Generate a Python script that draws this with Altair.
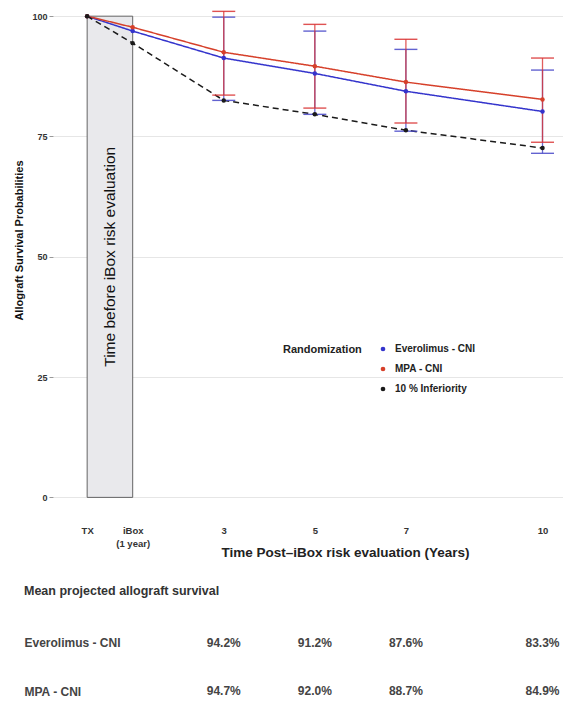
import altair as alt
import pandas as pd

# ---------------- data ----------------
years = [0, 1, 3, 5, 7, 10]
tick_labels = ["TX", "iBox|(1 year)", "3", "5", "7", "10"]
series_names = ["Everolimus - CNI", "MPA - CNI", "10 % Inferiority"]
everolimus = [100, 96.9, 91.3, 88.1, 84.4, 80.2]
mpa = [100, 97.7, 92.5, 89.6, 86.3, 82.7]
inferiority = [100, 94.4, 82.5, 79.6, 76.3, 72.6]

ci_years = [3, 5, 7, 10]
everolimus_low = [82.5, 79.6, 76.1, 71.5]
everolimus_high = [99.8, 96.9, 93.1, 88.8]
mpa_low = [83.6, 80.9, 77.8, 73.8]
mpa_high = [101.0, 98.3, 95.2, 91.3]

box_start, box_end = 0, 1
box_top = 100
box_label = "Time before iBox risk evaluation"
box_label_level = 50

table_title = "Mean projected allograft survival"
table_rows = ["Everolimus - CNI", "MPA - CNI"]
table_years = [3, 5, 7, 10]
table_everolimus = ["94.2%", "91.2%", "87.6%", "83.3%"]
table_mpa = ["94.7%", "92.0%", "88.7%", "84.9%"]

# ---------------- style ----------------
FONT = "Liberation Sans"
line_colors = ["#3434cc", "#d6402a", "#1a1a1a"]
line_dashes = [[1, 0], [1, 0], [6, 4]]
ci_colors = {"Everolimus - CNI": "#4646c8", "MPA - CNI": "#d93434"}
X_DOMAIN = [-0.75, 10.45]
Y_DOMAIN = [-2, 101.7]
W, H = 510, 499

# ---------------- tables ----------------
rows = []
for name, vals in zip(series_names, [everolimus, mpa, inferiority]):
    for yr, v in zip(years, vals):
        rows.append({"series": name, "year": yr, "value": v})
lines_df = pd.DataFrame(rows)

ci_rows = []
for name, lo, hi in [(series_names[0], everolimus_low, everolimus_high),
                     (series_names[1], mpa_low, mpa_high)]:
    for yr, l, h in zip(ci_years, lo, hi):
        ci_rows.append({"series": name, "year": yr, "low": l, "high": h})
ci_df = pd.DataFrame(ci_rows)

box_df = pd.DataFrame({"year": [box_start], "year2": [box_end], "value": [0], "value2": [box_top]})
box_text_df = pd.DataFrame({"year": [(box_start + box_end) / 2], "value": [box_label_level], "label": [box_label]})

# label expression from tick labels
expr_parts = []
for v, lab in zip(years, tick_labels):
    if "|" in lab:
        parts = lab.split("|")
        expr_parts.append(f"datum.value == {v} ? [{', '.join(repr(p) for p in parts)}]")
    else:
        expr_parts.append(f"datum.value == {v} ? '{lab}'")
label_expr = " : ".join(expr_parts) + " : datum.label"

x_enc = alt.X(
    "year:Q",
    scale=alt.Scale(domain=X_DOMAIN, nice=False, zero=False),
    axis=alt.Axis(
        values=years, labelExpr=label_expr, title="Time Post\u2013iBox risk evaluation (Years)",
        ticks=False, domain=False, grid=False, labelPadding=18, labelFontSize=9.5,
        labelLineHeight=13, labelColor="#333", titleFontSize=13.5, titleColor="#222",
        titleX=292, titleY=45, titleBaseline="middle", titleAnchor="middle", labelBaseline="top",
    ),
)
y_title = "Allograft Survival Probabilities"
y_enc = alt.Y(
    "value:Q",
    scale=alt.Scale(domain=Y_DOMAIN, nice=False, zero=False),
    title=y_title,
    axis=alt.Axis(
        values=[0, 25, 50, 75, 100], title=y_title, grid=True, gridColor="#e6e6e6", gridWidth=1,
        domain=False, ticks=True, tickSize=4, tickColor="#999", labelPadding=2,
        labelFontSize=9, labelColor="#333", titleFontSize=11, titleColor="#111", titlePadding=7,
        titleY=232,
    ),
)

box = alt.Chart(box_df).mark_rect(fill="#e9e9ec", stroke="#555555", strokeWidth=0.9).encode(
    x=x_enc, x2="year2:Q", y=y_enc, y2="value2:Q"
)
box_text = alt.Chart(box_text_df).mark_text(angle=270, fontSize=15.5, font=FONT, color="#111").encode(
    x="year:Q", y="value:Q", text="label:N"
)

line_layers = []
for name, col, dash in zip(series_names, line_colors, line_dashes):
    sub = lines_df[lines_df["series"] == name]
    line_layers.append(alt.Chart(sub).mark_line(strokeWidth=1.5, color=col, strokeDash=dash).encode(
        x="year:Q", y="value:Q"))

ci_layers = []
for name in series_names[:2]:
    sub = ci_df[ci_df["series"] == name]
    col = ci_colors[name]
    ci_layers.append(alt.Chart(sub).mark_rule(strokeWidth=1.3, opacity=0.8, color=col).encode(
        x="year:Q", y="low:Q", y2="high:Q"))
    ci_layers.append(alt.Chart(sub).mark_tick(orient="horizontal", size=23, thickness=1.4, opacity=0.85, color=col).encode(
        x="year:Q", y="low:Q"))
    ci_layers.append(alt.Chart(sub).mark_tick(orient="horizontal", size=23, thickness=1.4, opacity=0.85, color=col).encode(
        x="year:Q", y="high:Q"))

points = alt.Chart(lines_df).mark_circle(size=20, opacity=1).encode(
    x="year:Q", y="value:Q",
    color=alt.Color(
        "series:N", scale=alt.Scale(domain=series_names, range=line_colors),
        legend=alt.Legend(
            title="Randomization", orient="none", legendX=230, legendY=336, titleOrient="left",
            titleAnchor="start", titleBaseline="top",
            symbolType="circle", symbolSize=22, labelFontSize=10, labelOffset=7,
            labelFontWeight="bold", titleFontSize=11, titleFontWeight="bold", rowPadding=10,
            titlePadding=16, labelColor="#222", titleColor="#222", labelFont=FONT, titleFont=FONT,
            padding=0,
        ),
    ),
)

main = alt.layer(box, box_text, *line_layers, *ci_layers, points).properties(width=W, height=H)

# ---------------- table ----------------
trows = []
for name, vals in zip(table_rows, [table_everolimus, table_mpa]):
    for yr, t in zip(table_years, vals):
        trows.append({"row": name, "year": yr, "text": t})
table_df = pd.DataFrame(trows)

table = alt.Chart(table_df).mark_text(fontSize=12, fontWeight="bold", color="#444", font=FONT).encode(
    x=alt.X("year:Q", scale=alt.Scale(domain=X_DOMAIN, nice=False, zero=False), axis=None),
    y=alt.Y("row:N", scale=alt.Scale(type="point", domain=table_rows, padding=0.1),
            axis=alt.Axis(title=None, labelAlign="left", labelPadding=29, ticks=False, domain=False,
                          grid=False, labelFontSize=12, labelFontWeight="bold", labelColor="#444",
                          labelFont=FONT)),
    text="text:N",
).properties(
    width=W, height=58,
    title=alt.TitleParams(table_title, anchor="start", fontSize=12.5, fontWeight="bold", color="#333",
                          offset=39, font=FONT),
)

chart = alt.vconcat(main, table, spacing=26).properties(
    padding={"left": 5, "top": 0, "right": 0, "bottom": 0}
).configure_view(stroke=None).configure_axis(
    labelFont=FONT, titleFont=FONT, labelFontWeight="bold", titleFontWeight="bold"
).configure_title(font=FONT)

chart.save("out.html", embed_options={"renderer": "svg", "actions": False})
